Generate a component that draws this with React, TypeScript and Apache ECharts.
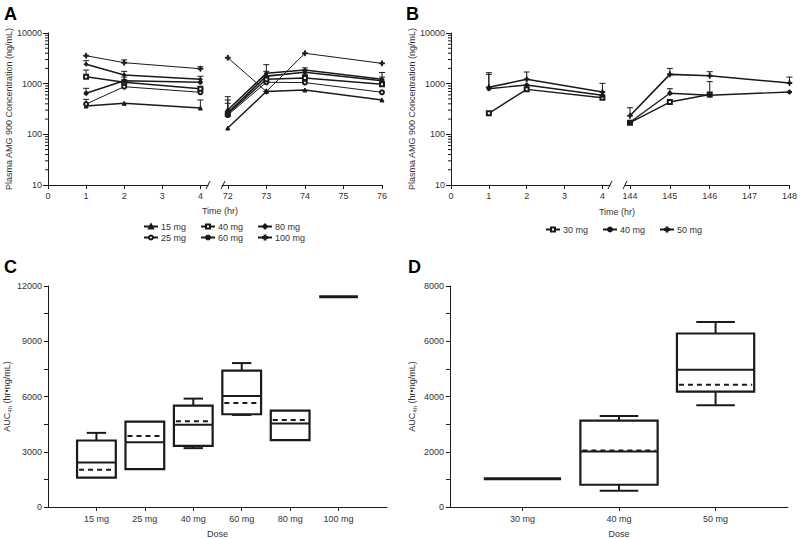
import React, { useEffect, useRef } from "react";
import * as echarts from "echarts";

// ---------------- Panel A: plasma concentration (ng/mL), days 1 and 4 -------------
const doseA = ["15 mg", "25 mg", "40 mg", "60 mg", "80 mg", "100 mg"];
const legendRowA1 = ["15 mg", "40 mg", "80 mg"];
const legendRowA2 = ["25 mg", "60 mg", "100 mg"];
const timeEarly = [1, 2, 4];
const timeLateA = [72, 73, 74, 76];
const a15Early = [362, 410, 331];
const a25Early = [397, 871, 676];
const a40Early = [1372, 1065, 795];
const a60Early = [645, 1143, 1065];
const a80Early = [2410, 1482, 1219];
const a100Early = [3565, 2594, 1972];
const a15EarlyHi = [null, null, 477];
const a25EarlyHi = [490, null, 790];
const a40EarlyHi = [1860, null, null];
const a60EarlyHi = [810, 1350, null];
const a80EarlyHi = [2840, 1750, 1400];
const a100EarlyHi = [null, 2950, 2150];
const a15Late = [133, 700, 750, 477];
const a25Late = [240, 1065, 1050, 676];
const a40Late = [255, 1219, 1290, 975];
const a60Late = [267, 1410, 1680, 1143];
const a80Late = [302, 1600, 1860, 1219];
const a100Late = [3250, 700, 3980, 2515];
const a15LateHi = [null, null, null, null];
const a25LateHi = [null, null, null, null];
const a40LateHi = [410, null, 1500, null];
const a60LateHi = [477, 1750, null, 1350];
const a80LateHi = [553, 2370, 2050, 1660];
const a100LateHi = [null, null, null, null];

// ---------------- Panel B -------------
const doseB = ["30 mg", "40 mg", "50 mg"];
const timeLateB = [144, 145, 146, 148];
const b30Early = [260, 773, 528];
const b40Early = [795, 942, 589];
const b50Early = [847, 1219, 684];
const b30EarlyHi = [null, null, null];
const b40EarlyHi = [1528, null, null];
const b50EarlyHi = [1645, 1700, 1016];
const b30Late = [170, 434, 610, null];
const b40Late = [173, 646, 590, 684];
const b50Late = [233, 1528, 1435, 1030];
const b30LateHi = [null, null, null, null];
const b40LateHi = [null, 795, 1097, null];
const b50LateHi = [335, 2000, 1722, 1350];

// ---------------- Axis ticks -------------
const tickEarly = [0, 1, 2, 3, 4];
const tickLateA = [72, 73, 74, 75, 76];
const tickLateB = [144, 145, 146, 147, 148];
const logMajor = [10, 100, 1000, 10000];
const logMinor = [20, 30, 40, 50, 60, 70, 80, 90, 200, 300, 400, 500, 600, 700, 800, 900, 2000, 3000, 4000, 5000, 6000, 7000, 8000, 9000];

// ---------------- Panel C: AUC4h box plots -------------
const doseC = ["15 mg", "25 mg", "40 mg", "60 mg", "80 mg", "100 mg"];
const cMin = [1590, 2060, 3195, 5000, 3630, 11410];
const cQ1 = [1590, 2060, 3320, 5035, 3630, 11410];
const cMedian = [2420, 3520, 4460, 6030, 4530, 11410];
const cMean = [2020, 3860, 4660, 5650, 4730, 11410];
const cQ3 = [3610, 4640, 5505, 7400, 5235, 11410];
const cMax = [4025, 4640, 5885, 7815, 5235, 11410];

// ---------------- Panel D -------------
const doseD = ["30 mg", "40 mg", "50 mg"];
const dMin = [1023, 590, 3681];
const dQ1 = [1023, 806, 4174];
const dMedian = [1023, 2009, 4968];
const dMean = [1023, 2045, 4427];
const dQ3 = [1023, 3128, 6280];
const dMax = [1023, 3296, 6700];

const FONT = "Liberation Sans, Arial, Helvetica, sans-serif";
const INK = "#1a1a1a";
const TXT = "#333";
const PLUS = "path://M4,0L6,0L6,4L10,4L10,6L6,6L6,10L4,10L4,6L0,6L0,4L4,4Z";
const symbolOf: Record<string, string> = {
  "15 mg": "triangle",
  "25 mg": "emptyCircle",
  "40 mg": "emptyRect",
  "60 mg": "circle",
  "80 mg": "diamond",
  "100 mg": PLUS,
  "B 30 mg": "emptyRect",
  "B 40 mg": "circle",
  "B 50 mg": PLUS,
};
const widthOf: Record<string, number> = {
  "15 mg": 1.4, "25 mg": 1, "40 mg": 1.4, "60 mg": 1.6, "80 mg": 1.6, "100 mg": 1,
  "B 30 mg": 1.4, "B 40 mg": 1.4, "B 50 mg": 1.6,
};

function pairs(times: number[], vals: (number | null)[]) {
  const out: number[][] = [];
  times.forEach((t, i) => {
    if (vals[i] != null) out.push([t, vals[i] as number]);
  });
  return out;
}

function lineSeries(name: string, times: number[], vals: (number | null)[], idx: number) {
  return {
    type: "line",
    name,
    xAxisIndex: idx,
    yAxisIndex: idx,
    data: pairs(times, vals),
    symbol: symbolOf[name],
    symbolSize: name.includes("100") || name.includes("50") ? 5 : 4,
    showSymbol: true,
    lineStyle: { color: INK, width: widthOf[name] },
    itemStyle: { color: INK, borderColor: INK, borderWidth: 1 },
    z: 3,
  };
}

function errRows(times: number[], vals: (number | null)[], hi: (number | null)[]) {
  const out: number[][] = [];
  times.forEach((t, i) => {
    if (vals[i] != null && hi[i] != null) out.push([t, vals[i] as number, hi[i] as number]);
  });
  return out;
}

function errSeries(rows: number[][], idx: number) {
  return {
    type: "custom",
    name: "err" + idx,
    xAxisIndex: idx,
    yAxisIndex: idx,
    data: rows,
    silent: true,
    z: 2,
    encode: { x: 0, y: 1 },
    renderItem: (_p: any, api: any) => {
      const a = api.coord([api.value(0), api.value(1)]);
      const b = api.coord([api.value(0), api.value(2)]);
      return {
        type: "group",
        children: [
          { type: "line", shape: { x1: a[0], y1: a[1], x2: b[0], y2: b[1] }, style: { stroke: INK, lineWidth: 1 } },
          { type: "line", shape: { x1: b[0] - 3, y1: b[1], x2: b[0] + 3, y2: b[1] }, style: { stroke: INK, lineWidth: 1 } },
        ],
      };
    },
  };
}

function minorTickSeries(idx: number, xAt: number) {
  return {
    type: "custom",
    name: "minor" + idx,
    xAxisIndex: idx,
    yAxisIndex: idx,
    data: logMinor.map((v) => [xAt, v]),
    silent: true,
    clip: false,
    z: 5,
    encode: { x: 0, y: 1 },
    renderItem: (_p: any, api: any) => {
      const p = api.coord([api.value(0), api.value(1)]);
      return {
        type: "line",
        shape: { x1: p[0] - 3, y1: p[1], x2: p[0], y2: p[1] },
        style: { stroke: INK, lineWidth: 1 },
      };
    },
  };
}

function boxSeries(idx: number, rows: number[][]) {
  return {
    type: "custom",
    name: "box" + idx,
    xAxisIndex: idx,
    yAxisIndex: idx,
    data: rows,
    silent: true,
    clip: false,
    encode: { x: 0, y: [1, 2, 3, 4, 5, 6] },
    renderItem: (_p: any, api: any) => {
      const x = api.value(0);
      const q1 = api.value(1), med = api.value(2), mean = api.value(3), q3 = api.value(4);
      const lo = api.value(5), hi = api.value(6);
      const hw = 0.4;
      const tl = api.coord([x - hw, q3]);
      const br = api.coord([x + hw, q1]);
      const cx = api.coord([x, q1])[0];
      const yOf = (v: number) => api.coord([x, v])[1];
      const capHalf = (br[0] - tl[0]) * 0.25;
      const children: any[] = [];
      if (q3 === q1) {
        children.push({
          type: "line",
          shape: { x1: tl[0], y1: yOf(q1), x2: br[0], y2: yOf(q1) },
          style: { stroke: INK, lineWidth: 3 },
        });
        return { type: "group", children };
      }
      if (hi > q3) {
        children.push({ type: "line", shape: { x1: cx, y1: yOf(q3), x2: cx, y2: yOf(hi) }, style: { stroke: INK, lineWidth: 2 } });
        children.push({ type: "line", shape: { x1: cx - capHalf, y1: yOf(hi), x2: cx + capHalf, y2: yOf(hi) }, style: { stroke: INK, lineWidth: 2 } });
      }
      if (lo < q1) {
        children.push({ type: "line", shape: { x1: cx, y1: yOf(q1), x2: cx, y2: yOf(lo) }, style: { stroke: INK, lineWidth: 2 } });
        children.push({ type: "line", shape: { x1: cx - capHalf, y1: yOf(lo), x2: cx + capHalf, y2: yOf(lo) }, style: { stroke: INK, lineWidth: 2 } });
      }
      children.push({
        type: "rect",
        shape: { x: tl[0], y: tl[1], width: br[0] - tl[0], height: br[1] - tl[1] },
        style: { stroke: INK, lineWidth: 2.2, fill: "#ffffff" },
      });
      children.push({ type: "line", shape: { x1: tl[0], y1: yOf(med), x2: br[0], y2: yOf(med) }, style: { stroke: INK, lineWidth: 2 } });
      children.push({
        type: "line",
        shape: { x1: tl[0] + 2, y1: yOf(mean), x2: br[0] - 2, y2: yOf(mean) },
        style: { stroke: INK, lineWidth: 2, lineDash: [5, 4] },
      });
      return { type: "group", children };
    },
  };
}

const labelStyle = { color: TXT, fontSize: 9, fontFamily: FONT };
const axisLineStyle = { lineStyle: { color: INK, width: 1 } };

function timeXAxis(idx: number, min: number, max: number, ticks: number[]) {
  return {
    type: "value",
    gridIndex: idx,
    min,
    max,
    axisLine: { show: true, ...axisLineStyle },
    axisTick: { show: true, length: 4, customValues: ticks, lineStyle: { color: INK } },
    axisLabel: { ...labelStyle, margin: 6, customValues: ticks, formatter: (v: number) => String(Math.round(v)) },
    splitLine: { show: false },
  };
}

function logYAxis(idx: number, visible: boolean) {
  return {
    type: "log",
    gridIndex: idx,
    logBase: 10,
    min: 10,
    max: 10000,
    splitNumber: 3,
    show: visible,
    name: visible ? "Plasma AMG 900 Concentration (ng/mL)" : "",
    nameLocation: "middle",
    nameGap: 34,
    nameTextStyle: { color: TXT, fontSize: 9, fontFamily: FONT },
    axisLine: { show: true, ...axisLineStyle },
    axisTick: { show: true, length: 5, customValues: logMajor, lineStyle: { color: INK } },
    axisLabel: { ...labelStyle, margin: 6, customValues: logMajor, formatter: (v: number) => String(Math.round(v)) },
    splitLine: { show: false },
    minorTick: { show: false },
  };
}

const aucRich = {
  a: { fontSize: 9, fontFamily: FONT, color: TXT, lineHeight: 12 },
  s: { fontSize: 6, fontFamily: FONT, color: TXT, lineHeight: 12, verticalAlign: "bottom" },
};

function aucYAxis(idx: number, max: number, interval: number) {
  return {
    type: "value",
    gridIndex: idx,
    min: 0,
    max,
    interval,
    name: "{a|AUC}{s|4h}{a| (hr•ng/mL)}",
    nameLocation: "middle",
    nameGap: 32,
    nameTextStyle: { rich: aucRich },
    axisLine: { show: true, ...axisLineStyle },
    axisTick: { show: true, length: 4, lineStyle: { color: INK } },
    minorTick: { show: true, splitNumber: 2, length: 4, lineStyle: { color: INK } },
    axisLabel: { ...labelStyle, margin: 6, formatter: (v: number) => String(v) },
    splitLine: { show: false },
    minorSplitLine: { show: false },
  };
}

function doseXAxis(idx: number, min: number, max: number, names: string[]) {
  const vals = names.map((_, i) => i + 1);
  return {
    type: "value",
    gridIndex: idx,
    min,
    max,
    name: "Dose",
    nameLocation: "middle",
    nameGap: 22,
    nameTextStyle: { color: TXT, fontSize: 9, fontFamily: FONT },
    axisLine: { show: true, ...axisLineStyle },
    axisTick: { show: true, length: 4, customValues: vals, lineStyle: { color: INK } },
    axisLabel: { ...labelStyle, margin: 7, customValues: vals, formatter: (v: number) => names[Math.round(v) - 1] ?? "" },
    splitLine: { show: false },
  };
}

function legendRow(data: string[], left: number, top: number, fmt?: (n: string) => string) {
  return {
    data,
    left,
    top,
    orient: "horizontal",
    itemWidth: 14,
    itemHeight: 5,
    itemGap: 14,
    padding: 0,
    selectedMode: false,
    formatter: fmt,
    textStyle: { color: TXT, fontSize: 9, fontFamily: FONT, padding: [0, 0, 0, -2] },
  };
}

function breakMarks(x1: number, x2: number, y: number) {
  return [x1, x2].map((x) => ({
    type: "line",
    shape: { x1: x - 2, y1: y + 4, x2: x + 2, y2: y - 4 },
    style: { stroke: INK, lineWidth: 1 },
  }));
}

function textG(text: string, x: number, y: number, size: number, bold = false) {
  return {
    type: "text",
    x,
    y,
    style: {
      text,
      fill: bold ? "#000" : TXT,
      font: `${bold ? "bold " : ""}${size}px ${FONT}`,
      textAlign: bold ? "left" : "center",
      textVerticalAlign: "middle",
    },
  };
}

export default function App() {
  const ref = useRef<HTMLDivElement>(null);
  useEffect(() => {
    if (!ref.current) return;
    const chart = echarts.init(ref.current, null, { renderer: "svg" });

    const aEarly: [string, (number | null)[], (number | null)[]][] = [
      ["15 mg", a15Early, a15EarlyHi],
      ["25 mg", a25Early, a25EarlyHi],
      ["40 mg", a40Early, a40EarlyHi],
      ["60 mg", a60Early, a60EarlyHi],
      ["80 mg", a80Early, a80EarlyHi],
      ["100 mg", a100Early, a100EarlyHi],
    ];
    const aLate: [string, (number | null)[], (number | null)[]][] = [
      ["15 mg", a15Late, a15LateHi],
      ["25 mg", a25Late, a25LateHi],
      ["40 mg", a40Late, a40LateHi],
      ["60 mg", a60Late, a60LateHi],
      ["80 mg", a80Late, a80LateHi],
      ["100 mg", a100Late, a100LateHi],
    ];
    const bEarly: [string, (number | null)[], (number | null)[]][] = [
      ["B 30 mg", b30Early, b30EarlyHi],
      ["B 40 mg", b40Early, b40EarlyHi],
      ["B 50 mg", b50Early, b50EarlyHi],
    ];
    const bLate: [string, (number | null)[], (number | null)[]][] = [
      ["B 30 mg", b30Late, b30LateHi],
      ["B 40 mg", b40Late, b40LateHi],
      ["B 50 mg", b50Late, b50LateHi],
    ];

    const series: any[] = [];
    const addGroup = (group: typeof aEarly, times: number[], idx: number) => {
      let rows: number[][] = [];
      group.forEach(([n, v, h]) => {
        series.push(lineSeries(n, times, v, idx));
        rows = rows.concat(errRows(times, v, h));
      });
      series.push(errSeries(rows, idx));
    };
    addGroup(aEarly, timeEarly, 0);
    addGroup(aLate, timeLateA, 1);
    addGroup(bEarly, timeEarly, 2);
    addGroup(bLate, timeLateB, 3);
    series.push(minorTickSeries(0, 0));
    series.push(minorTickSeries(2, 0));
    series.push(
      boxSeries(
        4,
        doseC.map((_, i) => [i + 1, cQ1[i], cMedian[i], cMean[i], cQ3[i], cMin[i], cMax[i]])
      )
    );
    series.push(
      boxSeries(
        5,
        doseD.map((_, i) => [i + 1, dQ1[i], dMedian[i], dMean[i], dQ3[i], dMin[i], dMax[i]])
      )
    );

    const option: any = {
      animation: false,
      backgroundColor: "#ffffff",
      textStyle: { fontFamily: FONT },
      grid: [
        { left: 48, top: 33, width: 160, height: 152 },
        { left: 222, top: 33, width: 160, height: 152 },
        { left: 451, top: 33, width: 159, height: 152 },
        { left: 625, top: 33, width: 165, height: 152 },
        { left: 48, top: 286, width: 339, height: 221 },
        { left: 450, top: 286, width: 338, height: 221 },
      ],
      xAxis: [
        timeXAxis(0, 0, 4.2, tickEarly),
        timeXAxis(1, 71.85, 76, tickLateA),
        timeXAxis(2, 0, 4.2, tickEarly),
        timeXAxis(3, 143.875, 148, tickLateB),
        doseXAxis(4, 0, 7, doseC),
        doseXAxis(5, 0.25, 3.75, doseD),
      ],
      yAxis: [
        logYAxis(0, true),
        logYAxis(1, false),
        logYAxis(2, true),
        logYAxis(3, false),
        aucYAxis(4, 12000, 3000),
        aucYAxis(5, 8000, 2000),
      ],
      legend: [
        legendRow(legendRowA1, 143, 222),
        legendRow(legendRowA2, 143, 233),
        legendRow(doseB.map((d) => "B " + d), 545, 225, (n: string) => n.slice(2)),
      ],
      graphic: [
        ...breakMarks(208, 223, 185),
        ...breakMarks(610, 625, 185),
        textG("Time (hr)", 220, 211, 9),
        textG("Time (hr)", 617, 212, 9),
        textG("A", 4, 14, 18, true),
        textG("B", 406, 14, 18, true),
        textG("C", 4, 267, 18, true),
        textG("D", 408, 267, 18, true),
      ],
      series,
    };
    chart.setOption(option);
    return () => chart.dispose();
  }, []);
  return (
    <div
      ref={ref}
      style={{ position: "fixed", left: 0, top: 0, width: 800, height: 539, background: "#fff" }}
    />
  );
}
